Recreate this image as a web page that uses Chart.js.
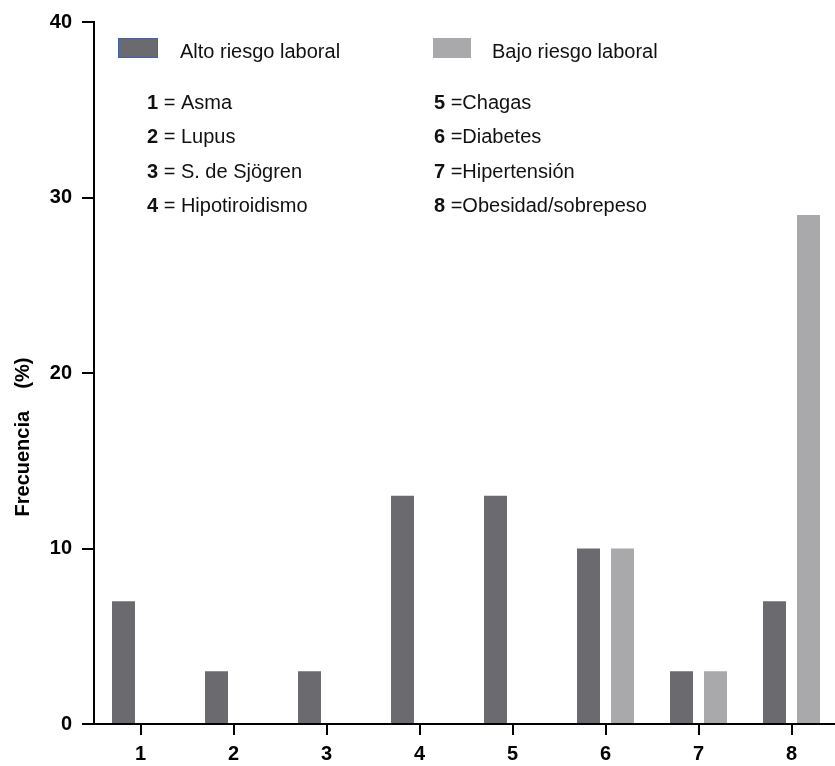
<!DOCTYPE html>
<html>
<head>
<meta charset="utf-8">
<script src="https://cdn.jsdelivr.net/npm/chart.js@4"></script>
<style>
  html, body { margin: 0; padding: 0; background: #fff; overflow: hidden; }
  #wrap { width: 840px; height: 766px; }
</style>
</head>
<body>
<div id="wrap"><canvas id="chart" width="840" height="766"></canvas></div>
<script>
const categories = ['1', '2', '3', '4', '5', '6', '7', '8'];
const alto = [7, 3, 3, 13, 13, 10, 3, 7];
const bajo = [0, 0, 0, 0, 0, 10, 3, 29];
const seriesNames = ['Alto riesgo laboral', 'Bajo riesgo laboral'];
const yTicks = [0, 10, 20, 30, 40];
const codesLeft = ['1', '2', '3', '4'];
const namesLeft = ['Asma', 'Lupus', 'S. de Sjögren', 'Hipotiroidismo'];
const codesRight = ['5', '6', '7', '8'];
const namesRight = ['Chagas', 'Diabetes', 'Hipertensión', 'Obesidad/sobrepeso'];
const yTitle = 'Frecuencia    (%)';

const DARK = '#6b6b6f';
const LIGHT = '#a9a9ac';
const FONT = 'Arial, "Liberation Sans", sans-serif';

// leyenda y lista de enfermedades dibujadas a mano
const legendPlugin = {
    id: 'legendPlugin',
    afterDraw(chart) {
        const ctx = chart.ctx;
        ctx.save();
        // cajas
        ctx.fillStyle = DARK;
        ctx.fillRect(118, 38, 40, 20);
        ctx.strokeStyle = '#3b62b5';
        ctx.lineWidth = 1;
        ctx.strokeRect(118.5, 38.5, 39, 19);
        ctx.fillStyle = LIGHT;
        ctx.fillRect(433, 38, 38, 20);

        ctx.fillStyle = '#111';
        ctx.textBaseline = 'middle';
        ctx.textAlign = 'left';
        ctx.font = '20px ' + FONT;
        ctx.fillText(seriesNames[0], 180, 52);
        ctx.fillText(seriesNames[1], 492, 52);

        const rows = [103, 137, 172, 206];
        rows.forEach((y, i) => {
            ctx.font = 'bold 20px ' + FONT;
            ctx.fillText(codesLeft[i], 147, y);
            let w = ctx.measureText(codesLeft[i]).width;
            ctx.font = '20px ' + FONT;
            ctx.fillText(' = ' + namesLeft[i], 147 + w, y);

            ctx.font = 'bold 20px ' + FONT;
            ctx.fillText(codesRight[i], 434, y);
            w = ctx.measureText(codesRight[i]).width;
            ctx.font = '20px ' + FONT;
            ctx.fillText(' =' + namesRight[i], 434 + w, y);
        });

        // titulo del eje y
        ctx.translate(23, 437);
        ctx.rotate(-Math.PI / 2);
        ctx.textAlign = 'center';
        ctx.font = 'bold 20px ' + FONT;
        ctx.fillStyle = '#000';
        ctx.fillText(yTitle, 0, 0);
        ctx.restore();
    }
};

new Chart(document.getElementById('chart'), {
    type: 'bar',
    data: {
        labels: categories,
        datasets: [
            { label: seriesNames[0], data: alto, backgroundColor: DARK, borderWidth: 0,
              categoryPercentage: 0.731, barPercentage: 0.676 },
            { label: seriesNames[1], data: bajo, backgroundColor: LIGHT, borderWidth: 0,
              categoryPercentage: 0.731, barPercentage: 0.676 }
        ]
    },
    options: {
        responsive: false,
        animation: false,
        layout: { padding: { left: 0, top: 15, right: 2, bottom: 0 } },
        plugins: { legend: { display: false }, tooltip: { enabled: false } },
        scales: {
            x: {
                grid: { display: true, drawOnChartArea: false, drawTicks: true, tickLength: 11,
                        color: '#000', lineWidth: 2, offset: false },
                border: { display: true, color: '#000', width: 2 },
                ticks: { color: '#000', font: { family: FONT, size: 20, weight: 'bold' }, padding: 7 },
                afterFit(scale) { scale.height = 42; }
            },
            y: {
                min: 0, max: 40,
                afterBuildTicks(scale) { scale.ticks = yTicks.map(v => ({ value: v })); },
                grid: { display: true, drawOnChartArea: false, drawTicks: true, tickLength: 12,
                        color: '#000', lineWidth: 2 },
                border: { display: true, color: '#000', width: 2 },
                ticks: { color: '#000', font: { family: FONT, size: 20, weight: 'bold' }, padding: 10 },
                afterFit(scale) { scale.width = 94; }
            }
        }
    },
    plugins: [legendPlugin]
});
</script>
</body>
</html>
